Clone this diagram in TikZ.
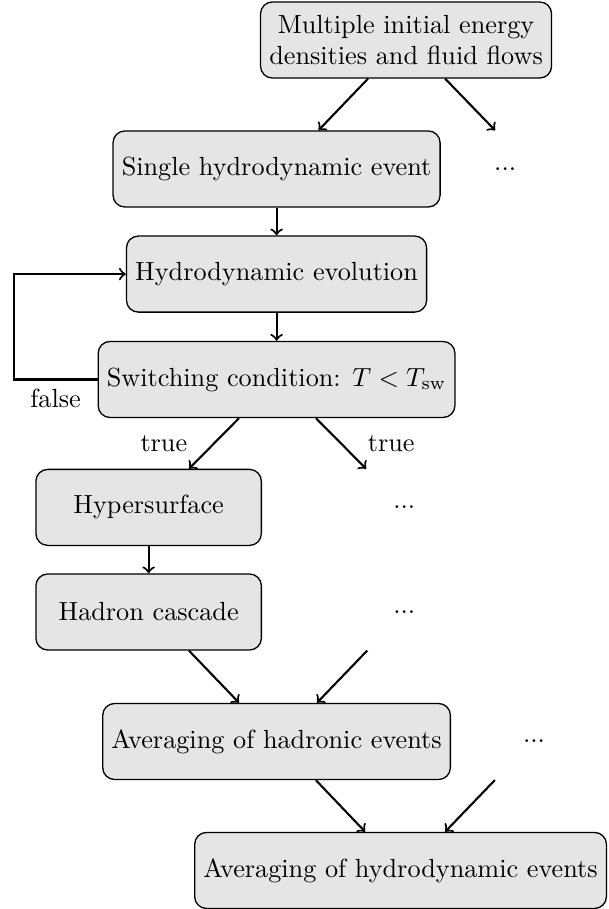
\documentclass[tikz,border=0pt]{standalone}
\usepackage{amsmath, amssymb}
\usepackage{tikz}
\usetikzlibrary{shapes,positioning,arrows}
\tikzset{procbox/.style={draw,rectangle,rounded corners=4.5pt,fill=black!10,minimum height=29pt,align=center,line width=0.5pt},
         dotsbox/.style={draw=none,minimum height=29pt}}

\begin{document}
\begin{tikzpicture}[node distance=40pt,on grid]
        \useasboundingbox (-154.9pt,15.26pt) rectangle (77.1pt,-331.5pt);
        \node[procbox] (init) at (0,0) {Multiple initial energy\\densities and fluid flows};
        \node[procbox,below left=49.2pt and 49.4pt of init] (single) {Single hydrodynamic event};
        \node[dotsbox,right=87.2pt of single] (dots1) {...};

        \node[procbox,below=40.1pt of single] (evol) {Hydrodynamic evolution};
        \node[procbox,below=40.2pt of evol] (switch) {Switching condition: $T<T_{\text{sw}}$};

        \node[procbox,minimum width=86pt,below left=48.8pt and 48.8pt of switch] (hyper) {Hypersurface};
        \node[dotsbox,right=97.5pt of hyper] (dots2) {...};
        \node[procbox,minimum width=86pt,below=39.9pt of hyper] (cascade) {Hadron cascade};
        \node[dotsbox,right=97.5pt of cascade] (dots3) {...};

        \node[procbox,below right=49.4pt and 48.8pt of cascade] (avghad) {Averaging of hadronic events};
        \node[dotsbox,right=98.2pt of avghad] (dots4) {...};
        \node[procbox,below right=49.2pt and 47.3pt of avghad] (avghydro) {Averaging of hydrodynamic events};

        \draw[->,thick] ([xshift=-14.5pt]init.south) to ([xshift=16pt]single.north);
        \draw[->,thick] ([xshift=14.9pt]init.south) to ([xshift=-3.8pt]dots1.north);
        \draw[->,thick] (single) to (evol);
        \draw[->,thick] (evol) to (switch);
        \draw[->,thick] (switch.west) to node[below] {false} ++(-32pt,0) |- (evol.west);

        \draw[->,thick] ([xshift=-14.3pt]switch.south) to node[left=6.5pt] {true} ([xshift=15.4pt]hyper.north);
        \draw[->,thick] ([xshift=15pt]switch.south) to node[right=6.5pt] {true} ([xshift=-14.5pt]dots2.north);
        \draw[->,thick] (hyper) to (cascade);

        \draw[->,thick] ([xshift=15.4pt]cascade.south) to ([xshift=-14.3pt]avghad.north);
        \draw[->,thick] ([xshift=-14.1pt]dots3.south) to ([xshift=15.4pt]avghad.north);
        \draw[->,thick] ([xshift=15pt]avghad.south) to ([xshift=-13.5pt]avghydro.north);
        \draw[->,thick] ([xshift=-14.9pt]dots4.south) to ([xshift=17pt]avghydro.north);
    \end{tikzpicture}
\end{document}
